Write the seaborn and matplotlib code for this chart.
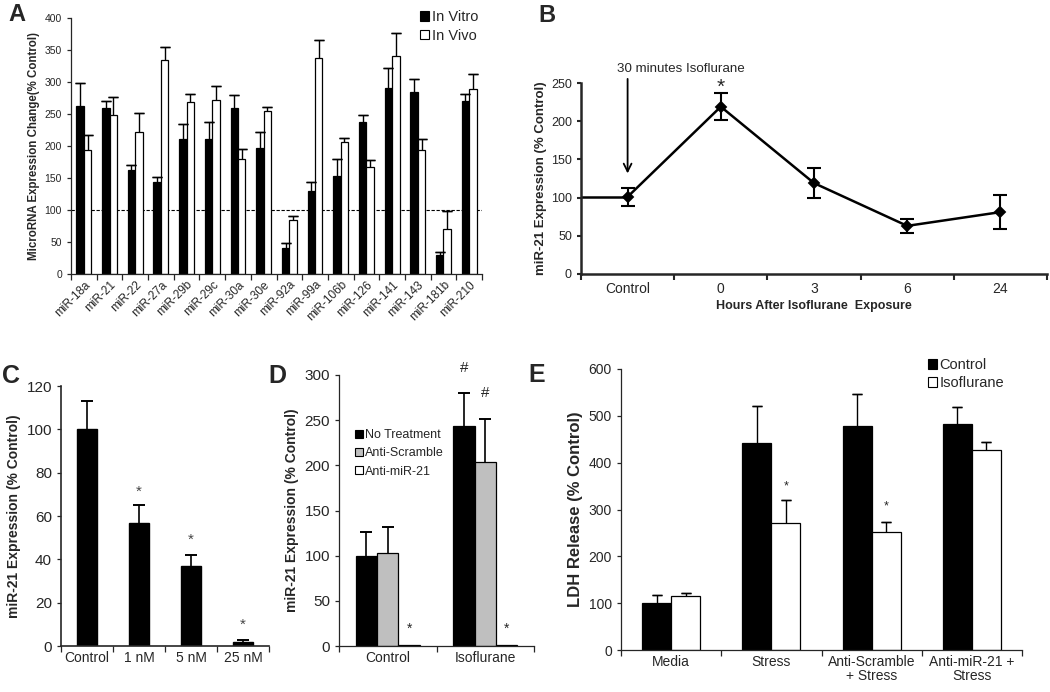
import numpy as np
import pandas as pd
import matplotlib
matplotlib.use("Agg")
import matplotlib.pyplot as plt
from matplotlib.patches import Patch
import seaborn as sns

# ---- data ----
mirs = ['miR-18a', 'miR-21', 'miR-22', 'miR-27a', 'miR-29b', 'miR-29c', 'miR-30a',
        'miR-30e', 'miR-92a', 'miR-99a', 'miR-106b', 'miR-126', 'miR-141', 'miR-143',
        'miR-181b', 'miR-210']
in_vitro = [263, 260, 163, 144, 211, 211, 259, 197, 41, 129, 153, 237, 291, 284, 29, 271]
in_vitro_err = [35, 10, 7, 7, 24, 26, 20, 25, 7, 14, 26, 11, 31, 20, 6, 10]
in_vivo = [194, 248, 222, 335, 268, 272, 180, 254, 85, 337, 206, 167, 341, 193, 71, 289]
in_vivo_err = [23, 28, 30, 20, 13, 22, 16, 7, 6, 28, 6, 11, 36, 18, 27, 24]

hours = ['Control', '0', '3', '6', '24']
time_expr = [101, 219, 119, 63, 81]
time_err = [12, 17.5, 20, 9, 22]

conc = ['Control', '1 nM', '5 nM', '25 nM']
conc_expr = [100, 56.8, 36.8, 2]
conc_err = [13, 8.1, 5, 0.8]
conc_star = [None, 71, 49, 10]

d_groups = ['Control', 'Isoflurane']
d_treat = ['No Treatment', 'Anti-Scramble', 'Anti-miR-21']
d_none = [100, 243]
d_none_err = [26, 37]
d_scr = [103, 204]
d_scr_err = [29, 47]
d_anti = [1, 1]
d_anti_err = [0, 0]

e_groups = ['Media', 'Stress', 'Anti-Scramble\n+ Stress', 'Anti-miR-21 +\nStress']
e_ctrl = [101, 443, 479, 483]
e_ctrl_err = [16, 77, 68, 35]
e_iso = [115, 271, 252, 426]
e_iso_err = [7, 49, 21, 19]
e_star = [None, 349, 306, None]

# ---- style ----
sns.set_style('ticks')
plt.rcParams['font.family'] = ['Liberation Sans', 'DejaVu Sans']
plt.rcParams['axes.linewidth'] = 0.9
plt.rcParams['xtick.major.width'] = 0.9
plt.rcParams['ytick.major.width'] = 0.9

W, H = 1050, 692
fig = plt.figure(figsize=(W / 100, H / 100), dpi=100)


def px_axes(left, top, right, bottom):
    return fig.add_axes([left / W, 1 - bottom / H, (right - left) / W, (bottom - top) / H])


def cat_ticks(ax, labels, size, **kw):
    n = len(labels)
    ax.set_xlim(-0.5, n - 0.5)
    ax.set_xticks(np.arange(-0.5, n, 1))
    ax.set_xticklabels([])
    ax.set_xticks(np.arange(n), labels, minor=True, fontsize=size, **kw)
    ax.tick_params(axis='x', which='minor', length=0)
    ax.tick_params(axis='x', which='major', length=4, direction='out')


def bar_errors(ax, errs, capsize, lw=1.0):
    # upper half only, Excel style: stem from bar top plus a cap at the end
    bars = list(ax.containers)
    for cont, err in zip(bars, errs):
        for b, e in zip(cont, err):
            if e <= 0:
                continue
            x = b.get_x() + b.get_width() / 2
            y = b.get_height()
            ax.vlines(x, y, y + e, color='black', lw=lw, zorder=3)
            ax.errorbar([x], [y + e], yerr=[0], fmt='none', ecolor='black',
                        elinewidth=lw, capsize=capsize, capthick=lw, zorder=3)
    return bars


def square_legend(ax, labels, colors, size, **kw):
    handles = [Patch(facecolor=c, edgecolor='black', linewidth=0.8) for c in colors]
    ax.legend(handles, labels, frameon=False, fontsize=size, handlelength=0.65,
              handleheight=0.65, handletextpad=0.15, borderaxespad=0, borderpad=0, **kw)


# ---- A ----
axA = px_axes(71, 18, 482, 274)
dfA = pd.DataFrame({'mir': mirs, 'In Vitro': in_vitro, 'In Vivo': in_vivo})
dfA = dfA.melt(id_vars='mir', var_name='cond', value_name='val')
sns.barplot(data=dfA, x='mir', y='val', hue='cond', hue_order=['In Vitro', 'In Vivo'],
            palette={'In Vitro': 'black', 'In Vivo': 'white'}, edgecolor='black',
            linewidth=0.9, width=0.58, saturation=1, legend=False, ax=axA)
bar_errors(axA, [in_vitro_err, in_vivo_err], capsize=3.5)
axA.axhline(100, color='black', lw=0.8, ls=(0, (3, 1.5)), zorder=0.5)
axA.set_ylim(0, 400)
axA.set_yticks(range(0, 401, 50))
axA.tick_params(axis='y', labelsize=7.5, length=3)
cat_ticks(axA, mirs, 8.5, rotation=45, ha='right', rotation_mode='anchor')
axA.set_xlabel('')
axA.set_ylabel('MicroRNA Expression Change(% Control)', fontsize=8.3, fontweight='bold', labelpad=3)
square_legend(axA, ['In Vitro', 'In Vivo'], ['black', 'white'], 10.5,
              loc='upper right', bbox_to_anchor=(0.99, 1.03), labelspacing=0.3)
sns.despine(ax=axA)

# ---- B ----
axB = px_axes(581, 83, 1047, 274)
sns.pointplot(x=hours, y=time_expr, color='black', markers='D', markersize=5,
              linewidth=1.8, errorbar=None, ax=axB)
axB.errorbar(np.arange(len(hours)), time_expr, yerr=time_err, fmt='none', ecolor='black',
             elinewidth=1.5, capsize=5, capthick=1.5)
axB.plot([-0.5, 0], [time_expr[0], time_expr[0]], color='black', lw=1.8)
axB.set_ylim(0, 250)
axB.set_yticks(range(0, 251, 50))
axB.tick_params(axis='y', labelsize=9, length=3, width=1.5)
cat_ticks(axB, hours, 10)
axB.tick_params(axis='x', which='major', width=1.5)
axB.tick_params(axis='x', which='minor', pad=6)
for s in ['left', 'bottom']:
    axB.spines[s].set_linewidth(1.8)
axB.set_ylabel('miR-21 Expression (% Control)', fontsize=9.5, fontweight='bold', labelpad=3)
axB.set_xlabel('Hours After Isoflurane  Exposure', fontsize=9, fontweight='bold', labelpad=3)
axB.annotate('', xy=(0, 128), xytext=(0, 259), annotation_clip=False,
             arrowprops=dict(arrowstyle='->', color='black', lw=1.3, mutation_scale=14))
axB.text(-0.11, 268, '30 minutes Isoflurane', fontsize=9.6, ha='left', va='center', clip_on=False)
axB.text(1, 244, '*', fontsize=15, ha='center', va='center', clip_on=False)
sns.despine(ax=axB)

# ---- C ----
axC = px_axes(61, 386, 269, 646)
sns.barplot(x=conc, y=conc_expr, color='black', edgecolor='black', width=0.4,
            saturation=1, ax=axC)
bar_errors(axC, [conc_err], capsize=4, lw=1.2)
for i, s in enumerate(conc_star):
    if s is not None:
        axC.text(i, s, '*', fontsize=11, color='#444444', ha='center', va='center')
axC.set_ylim(0, 120)
axC.set_yticks(range(0, 121, 20))
axC.tick_params(axis='y', labelsize=11, length=3)
cat_ticks(axC, conc, 10)
for s in ['left', 'bottom']:
    axC.spines[s].set_linewidth(1.2)
axC.set_ylabel('miR-21 Expression (% Control)', fontsize=10, fontweight='bold', labelpad=4)
sns.despine(ax=axC)

# ---- D ----
axD = px_axes(339, 375, 534, 646)
dfD = pd.DataFrame({'grp': d_groups, d_treat[0]: d_none, d_treat[1]: d_scr, d_treat[2]: d_anti})
dfD = dfD.melt(id_vars='grp', var_name='treat', value_name='val')
d_colors = ['black', '#bfbfbf', 'white']
sns.barplot(data=dfD, x='grp', y='val', hue='treat', hue_order=d_treat,
            palette=dict(zip(d_treat, d_colors)), edgecolor='black', linewidth=0.9,
            width=0.66, saturation=1, legend=False, ax=axD)
barsD = bar_errors(axD, [d_none_err, d_scr_err, d_anti_err], capsize=4, lw=1.2)
b = barsD[0][1]
axD.text(b.get_x() + b.get_width() / 2, 308, '#', fontsize=11, ha='center', va='center', clip_on=False)
b = barsD[1][1]
axD.text(b.get_x() + b.get_width() / 2, 280, '#', fontsize=11, ha='center', va='center', clip_on=False)
for b in barsD[2]:
    axD.text(b.get_x() + b.get_width() / 2, 19, '*', fontsize=10, ha='center', va='center')
axD.set_ylim(0, 300)
axD.set_yticks(range(0, 301, 50))
axD.tick_params(axis='y', labelsize=11, length=3)
cat_ticks(axD, d_groups, 10)
axD.set_xlabel('')
axD.set_ylabel('miR-21 Expression (% Control)', fontsize=10, fontweight='bold', labelpad=4)
square_legend(axD, d_treat, d_colors, 9, loc='upper left', bbox_to_anchor=(0.08, 0.80),
              labelspacing=0.5)
sns.despine(ax=axD)

# ---- E ----
axE = px_axes(621, 369, 1022, 650)
dfE = pd.DataFrame({'grp': e_groups, 'Control': e_ctrl, 'Isoflurane': e_iso})
dfE = dfE.melt(id_vars='grp', var_name='cond', value_name='val')
sns.barplot(data=dfE, x='grp', y='val', hue='cond', hue_order=['Control', 'Isoflurane'],
            palette={'Control': 'black', 'Isoflurane': 'white'}, edgecolor='black',
            linewidth=0.9, width=0.58, saturation=1, legend=False, ax=axE)
barsE = bar_errors(axE, [e_ctrl_err, e_iso_err], capsize=3.5)
for b, s in zip(barsE[1], e_star):
    if s is not None:
        axE.text(b.get_x() + b.get_width() / 2, s, '*', fontsize=9, ha='center', va='center')
axE.set_ylim(0, 600)
axE.set_yticks(range(0, 601, 100))
axE.tick_params(axis='y', labelsize=10, length=3)
cat_ticks(axE, e_groups, 10, linespacing=1.0)
axE.set_xlabel('')
axE.set_ylabel('LDH Release (% Control)', fontsize=12, fontweight='bold', labelpad=4)
square_legend(axE, ['Control', 'Isoflurane'], ['black', 'white'], 10.5, loc='upper left',
              bbox_to_anchor=(0.765, 1.04), labelspacing=0.3)
sns.despine(ax=axE)

# ---- panel letters ----
for letter, x, y, size in [('A', 8, 21, 17), ('B', 538, 22, 17), ('C', 2, 383, 18),
                           ('D', 268, 383, 18), ('E', 528, 382, 18)]:
    fig.text(x / W, 1 - y / H, letter, fontsize=size, fontweight='bold', ha='left', va='baseline')

fig.savefig('out.png', dpi=100)
